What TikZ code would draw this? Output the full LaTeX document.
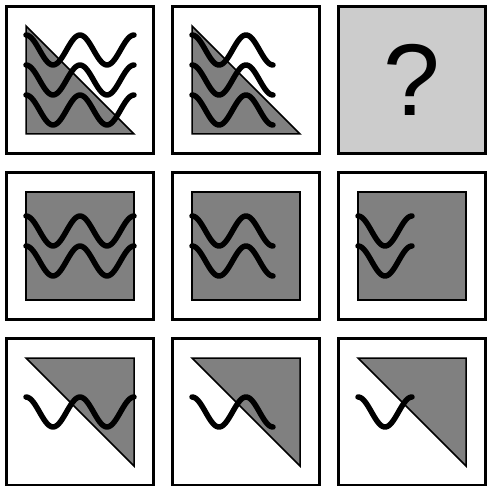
\documentclass[tikz,border=0pt]{standalone}
\usepackage{fontspec}
\setmainfont{Liberation Sans}
\usepackage{tikz}
\usetikzlibrary{calc,positioning}
\definecolor{pzgray}{HTML}{808080}
\definecolor{pzlight}{HTML}{CCCCCC}
\newcommand{\wavy}[3]{\draw[wave,shift={($(#1.center)+(-54,#2-15)$)}] plot[domain=0:#3,samples=61,variable=\t] (\t,{15*cos(\t*20/3)});}

\begin{document}
\begin{tikzpicture}[x=1pt,y=1pt,node distance=19pt and 19pt,
  cell/.style={draw,line width=3pt,minimum size=147pt,inner sep=0pt,outer sep=0pt,fill=white},
  shade/.style={draw,line width=1.5pt,fill=pzgray},
  wave/.style={line width=5.5pt,line cap=round,line join=round}]
\useasboundingbox (0,0) rectangle (487,-486);
\node[cell] (n11) at (80,-80) {};\node[cell,right=of n11] (n12) {};\node[cell,right=of n12,fill=pzlight,font=\fontsize{102}{102}\selectfont] (n13) {?};
\node[cell,below=of n11] (n21) {};\node[cell,right=of n21] (n22) {};\node[cell,right=of n22] (n23) {};
\node[cell,below=of n21] (n31) {};\node[cell,right=of n31] (n32) {};\node[cell,right=of n32] (n33) {};
\draw[shade,shift={(n11.center)}] (-54,54) -- (-54,-54) -- (54,-54) -- cycle;\draw[shade,shift={(n12.center)}] (-54,54) -- (-54,-54) -- (54,-54) -- cycle;
\draw[shade,shift={(n21.center)}] (-54,-54) rectangle (54,54);\draw[shade,shift={(n22.center)}] (-54,-54) rectangle (54,54);\draw[shade,shift={(n23.center)}] (-54,-54) rectangle (54,54);
\draw[shade,shift={(n31.center)}] (-54,54) -- (54,54) -- (54,-54) -- cycle;\draw[shade,shift={(n32.center)}] (-54,54) -- (54,54) -- (54,-54) -- cycle;\draw[shade,shift={(n33.center)}] (-54,54) -- (54,54) -- (54,-54) -- cycle;
\wavy{n11}{45}{108}\wavy{n11}{15}{108}\wavy{n11}{-15}{108}
\wavy{n12}{45}{81}\wavy{n12}{15}{81}\wavy{n12}{-15}{81}
\wavy{n21}{30}{108}\wavy{n21}{0}{108}
\wavy{n22}{30}{81}\wavy{n22}{0}{81}
\wavy{n23}{30}{54}\wavy{n23}{0}{54}
\wavy{n31}{15}{108}\wavy{n32}{15}{81}\wavy{n33}{15}{54}
\end{tikzpicture}
\end{document}
